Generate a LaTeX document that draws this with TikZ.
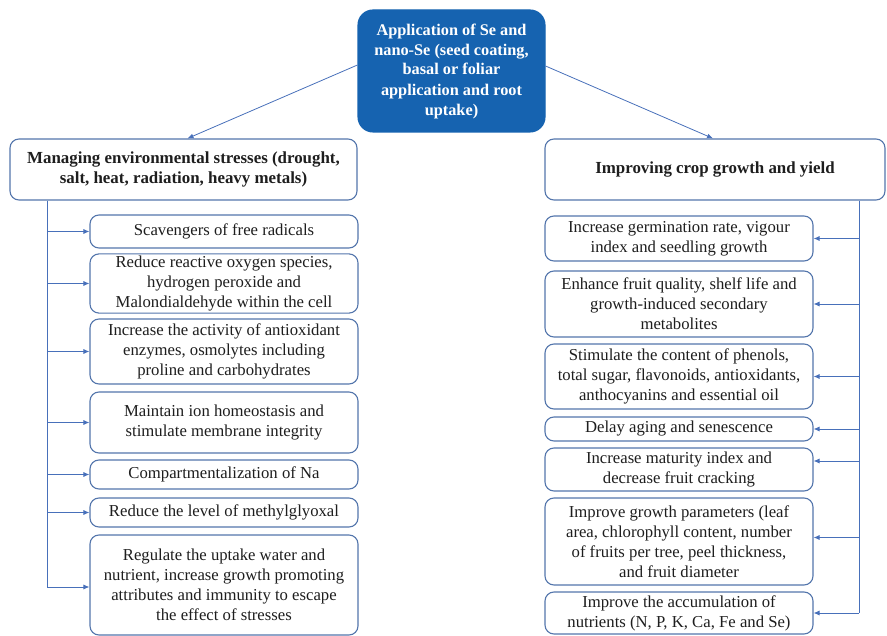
\documentclass[tikz,border=0pt]{standalone}
\usepackage{fontspec}
\setmainfont{Liberation Serif}
\usetikzlibrary{arrows.meta,calc}

\definecolor{hubblue}{RGB}{22,99,176}
\definecolor{frameblue}{RGB}{84,118,172}
\definecolor{linkblue}{RGB}{72,112,186}
\definecolor{inktext}{RGB}{30,30,30}

\tikzset{
  box/.style={draw=frameblue, line width=1.1pt, rounded corners=9pt, fill=white,
    align=center, inner sep=2pt, text=inktext,
    font=\fontsize{16.7}{20}\selectfont},
  headbox/.style={box, font=\bfseries\fontsize{16.9}{20}\selectfont},
  hubbox/.style={box, draw=hubblue, fill=hubblue, text=white, rounded corners=15pt,
    font=\bfseries\fontsize{16.3}{20}\selectfont},
  link/.style={draw=linkblue, line width=0.8pt},
  arr/.style={link, -{Latex[length=6pt,width=5pt]}}
}

\begin{document}
\begin{tikzpicture}[x=1pt, y=-1pt]
\useasboundingbox (0,0) rectangle (887,636);

% central node
\node[hubbox, minimum width=187pt, minimum height=122pt] (top) at (451.5,71)
  {Application of Se and\\nano-Se (seed coating,\\basal or foliar\\application and root\\uptake)};

% two headings
\node[headbox, minimum width=347pt, minimum height=61pt] (LH) at (183.5,169.5)
  {Managing environmental stresses (drought,\\salt, heat, radiation, heavy metals)};
\node[headbox, minimum width=340pt, minimum height=61pt] (RH) at (715,169.5)
  {Improving crop growth and yield};

% left column
\node[box, minimum width=268pt, minimum height=33pt] (L1) at (224,231.5)
  {Scavengers of free radicals};
\node[box, minimum width=268pt, minimum height=57pt] (L2) at (224,283.5)
  {Reduce reactive oxygen species,\\hydrogen peroxide and\\Malondialdehyde within the cell};
\node[box, minimum width=268pt, minimum height=65pt] (L3) at (224,351.5)
  {Increase the activity of antioxidant\\enzymes, osmolytes including\\proline and carbohydrates};
\node[box, minimum width=268pt, minimum height=61pt] (L4) at (224,422.5)
  {Maintain ion homeostasis and\\stimulate membrane integrity};
\node[box, minimum width=268pt, minimum height=29pt] (L5) at (224,474.5)
  {Compartmentalization of Na};
\node[box, minimum width=268pt, minimum height=29pt] (L6) at (224,512.5)
  {Reduce the level of methylglyoxal};
\node[box, minimum width=268pt, minimum height=100pt] (L7) at (224,585)
  {Regulate the uptake water and\\nutrient, increase growth promoting\\attributes and immunity to escape\\the effect of stresses};

% right column
\node[box, minimum width=268pt, minimum height=45pt] (R1) at (679,238.5)
  {Increase germination rate, vigour\\index and seedling growth};
\node[box, minimum width=268pt, minimum height=66pt] (R2) at (679,304)
  {Enhance fruit quality, shelf life and\\growth-induced secondary\\metabolites};
\node[box, minimum width=268pt, minimum height=65pt] (R3) at (679,376.5)
  {Stimulate the content of phenols,\\total sugar, flavonoids, antioxidants,\\anthocyanins and essential oil};
\node[box, minimum width=268pt, minimum height=24pt] (R4) at (679,429)
  {Delay aging and senescence};
\node[box, minimum width=268pt, minimum height=43pt] (R5) at (679,469.5)
  {Increase maturity index and\\decrease fruit cracking};
\node[box, minimum width=268pt, minimum height=87pt] (R6) at (679,541.5)
  {Improve growth parameters (leaf\\area, chlorophyll content, number\\of fruits per tree, peel thickness,\\and fruit diameter};
\node[box, minimum width=268pt, minimum height=42pt] (R7) at (679,613)
  {Improve the accumulation of\\nutrients (N, P, K, Ca, Fe and Se)};

% links from the central node
\draw[arr] ($(top.west)+(0,-6)$) -- ($(LH.north)+(4,0)$);
\draw[arr] ($(top.east)+(0,-5)$) -- ($(RH.north)+(-2,0)$);

% left trunk and branches
\coordinate (lt) at (47,0);
\draw[link] (lt |- LH.south) -- ($(lt |- L7.west)+(0,2)$);
\foreach \n in {L1,L2,L3,L4,L5,L6}
  \draw[arr] (lt |- \n.west) -- (\n.west);
\draw[arr] ($(lt |- L7.west)+(0,2)$) -- ($(L7.west)+(0,2)$);

% right trunk and branches
\coordinate (rt) at (859,0);
\draw[link] (rt |- RH.south) -- (rt |- R7.east);
\foreach \n in {R1,R2,R3,R4,R7}
  \draw[arr] (rt |- \n.east) -- (\n.east);
\draw[arr] ($(rt |- R5.east)+(0,-8.5)$) -- ($(R5.east)+(0,-8.5)$);
\draw[arr] ($(rt |- R6.east)+(0,-4)$) -- ($(R6.east)+(0,-4)$);
\end{tikzpicture}
\end{document}
